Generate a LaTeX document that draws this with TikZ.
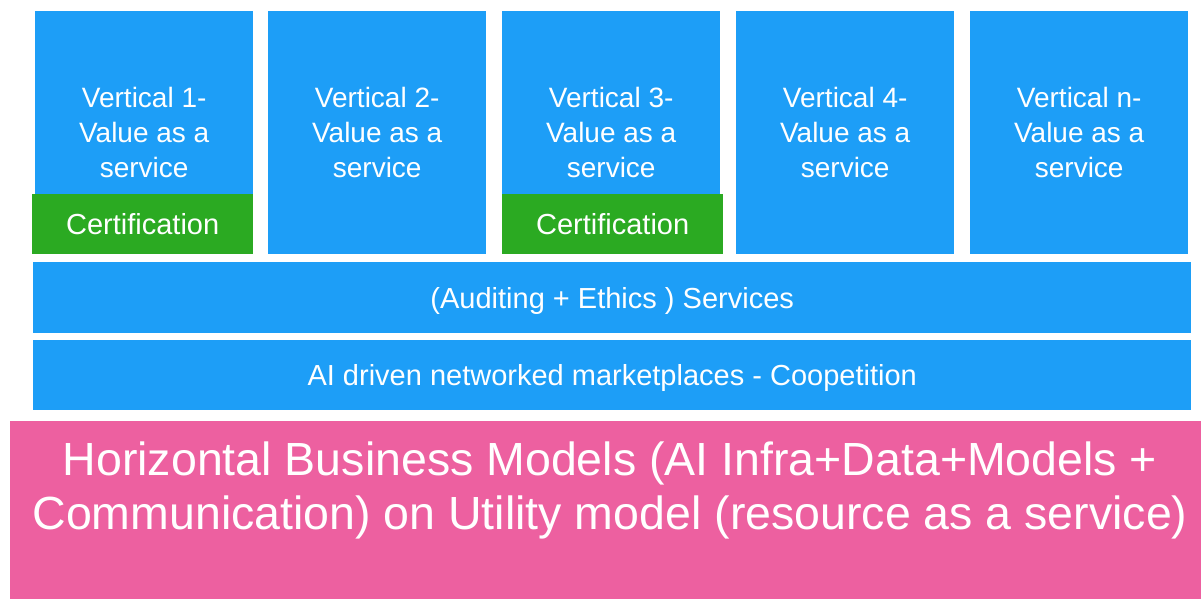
\documentclass[tikz,border=0pt]{standalone}
\usepackage{fontspec}
\setmainfont{Liberation Sans}
\usetikzlibrary{positioning}
\definecolor{vblue}{RGB}{29,158,247}
\definecolor{cgreen}{RGB}{43,170,34}
\definecolor{hpink}{RGB}{237,96,160}
\tikzset{vbox/.style = {fill=vblue, text=white, align=center, anchor=north west,
                        inner sep=0pt, minimum width=218pt, minimum height=243pt,
                        font=\fontsize{28}{35}\selectfont},
         cbox/.style = {fill=cgreen, text=white, anchor=north west, inner sep=0pt,
                        minimum width=221pt, minimum height=60pt,
                        font=\fontsize{29}{35}\selectfont},
         layer/.style = {fill=vblue, text=white, anchor=north west, inner sep=0pt,
                         minimum width=1158pt, text height=27pt, text depth=6pt,
                         font=\fontsize{29}{35}\selectfont}}

\begin{document}
\begin{tikzpicture}[x=1pt, y=-1pt]
      \useasboundingbox [fill=white] (0, 0) rectangle (1201, 599);
      % verticals
      \node [vbox] (v1) at (35, 11)  {Vertical 1-\\Value as a\\service};
      \node [vbox] (v2) at (268, 11) {Vertical 2-\\Value as a\\service};
      \node [vbox] (v3) at (502, 11) {Vertical 3-\\Value as a\\service};
      \node [vbox] (v4) at (736, 11) {Vertical 4-\\Value as a\\service};
      \node [vbox] (vn) at (970, 11) {Vertical n-\\Value as a\\service};
      \node [cbox] (cert1) at (32, 194)  {Certification};
      \node [cbox] (cert3) at (502, 194) {Certification};
      % layers
      \node [layer, minimum height=71pt] (audit) at (33, 262) {(Auditing + Ethics ) Services};
      \node [layer, minimum height=70pt] (market) at (33, 340) {AI driven networked marketplaces - Coopetition};
      \node [fill=hpink, anchor=north west, inner sep=0pt,
             minimum width=1191pt, minimum height=178pt] (hbm) at (10, 421) {};
      \node [text=white, align=center, anchor=north, inner sep=0pt,
             font=\fontsize{46.5}{54}\selectfont] (hbmtext) at (610, 442)
            {Horizontal Business Models (AI Infra+Data+Models +\\
             Communication) on Utility model (resource as a service)};
    \end{tikzpicture}
\end{document}
